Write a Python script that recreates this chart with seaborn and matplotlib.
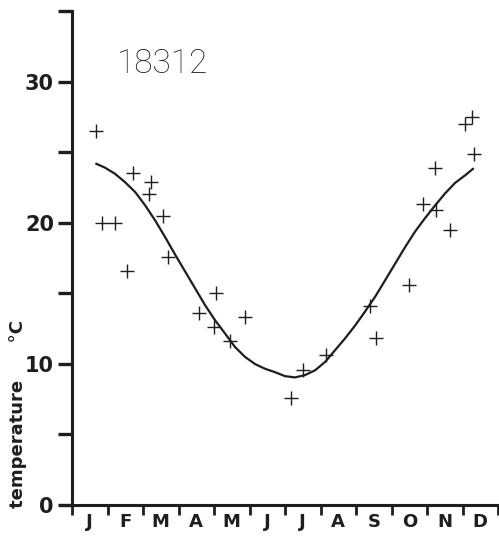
import matplotlib
matplotlib.use("Agg")
import matplotlib.pyplot as plt
import seaborn as sns
import pandas as pd

# Monthly observations (x in months from 1 January) and fitted annual curve
obs_month = [0.68, 0.85, 1.21, 1.55, 1.72, 2.17, 2.22, 2.57, 2.70, 3.58, 4.00, 4.06,
             4.45, 4.87, 6.17, 6.50, 7.15, 8.39, 8.56, 9.49, 9.89, 10.23, 10.25,
             10.65, 11.07, 11.27, 11.32]
obs_temp = [26.5, 20.0, 20.0, 16.6, 23.5, 22.0, 22.9, 20.5, 17.6, 13.6, 12.6, 15.0,
            11.6, 13.3, 7.6, 9.6, 10.6, 14.1, 11.8, 15.6, 21.3, 23.9, 20.9,
            19.5, 27.0, 27.5, 24.9]

curve_month = [0.68, 0.93, 1.21, 1.49, 1.78, 2.06, 2.34, 2.62, 2.90, 3.18, 3.47,
               3.75, 4.03, 4.31, 4.59, 4.87, 5.16, 5.44, 5.72, 6.00, 6.28, 6.56,
               6.85, 7.13, 7.41, 7.69, 7.97, 8.25, 8.54, 8.82, 9.10, 9.38, 9.66,
               9.94, 10.23, 10.51, 10.79, 11.07, 11.30]
curve_temp = [24.18, 23.90, 23.47, 22.88, 22.17, 21.23, 20.17, 18.99, 17.76, 16.57,
              15.34, 14.15, 13.09, 12.15, 11.20, 10.50, 9.98, 9.65, 9.41, 9.13,
              9.04, 9.20, 9.55, 10.14, 10.97, 11.80, 12.70, 13.69, 14.76, 15.92,
              17.09, 18.26, 19.36, 20.31, 21.23, 22.08, 22.82, 23.35, 23.83]

month_labels = ["J", "F", "M", "A", "M", "J", "J", "A", "S", "O", "N", "D"]
y_ticks = [0, 5, 10, 15, 20, 25, 30, 35]
y_labels = ["0", "", "10", "", "20", "", "30", ""]
station = "18312"

sns.set_theme(style="ticks")
plt.rcParams["font.family"] = ["DejaVu Sans"]

ink = "#1e1e1e"
fig = plt.figure(figsize=(4.99, 5.40), dpi=100)
ax = fig.add_axes([0.123, 0.0648, 0.875, 0.9148])

obs = pd.DataFrame({"month": obs_month, "temp": obs_temp})
fit = pd.DataFrame({"month": curve_month, "temp": curve_temp})

sns.lineplot(data=fit, x="month", y="temp", ax=ax, color=ink, linewidth=1.6,
             sort=False, estimator=None)
sns.scatterplot(data=obs, x="month", y="temp", ax=ax, marker="+", s=110,
                color=ink, linewidth=1.0)

ax.set_xlim(-0.3, 12)
ax.set_ylim(0, 35)

for side in ("top", "right"):
    ax.spines[side].set_visible(False)
ax.spines["left"].set_position(("data", 0))
for side in ("left", "bottom"):
    ax.spines[side].set_linewidth(2.2)
    ax.spines[side].set_color(ink)

# month boundaries as ticks, letters centred within each month
ax.set_xticks(range(13))
ax.set_xticklabels([])
ax.set_xticks([i + 0.5 for i in range(12)], minor=True)
ax.set_xticklabels(month_labels, minor=True, fontweight="bold", fontsize=13,
                   color=ink)
ax.tick_params(axis="x", which="major", direction="out", length=7, width=2,
               color=ink)
ax.tick_params(axis="x", which="minor", length=0, pad=6)

ax.set_yticks(y_ticks)
ax.set_yticklabels(y_labels, fontweight="bold", fontsize=15, color=ink)
ax.tick_params(axis="y", direction="out", length=10, width=2.4, color=ink, pad=3)

ax.set_xlabel("")
ax.set_ylabel("temperature      °C", fontweight="bold", fontsize=13, color=ink)
ax.yaxis.set_label_coords(-0.078, 0.185)

ax.text(0.128, 0.893, station, transform=ax.transAxes, fontsize=24,
        family=["Roboto", "DejaVu Sans"], fontweight="light", color="#222222",
        ha="left", va="center")

fig.savefig("out.png", dpi=100, facecolor="white")
